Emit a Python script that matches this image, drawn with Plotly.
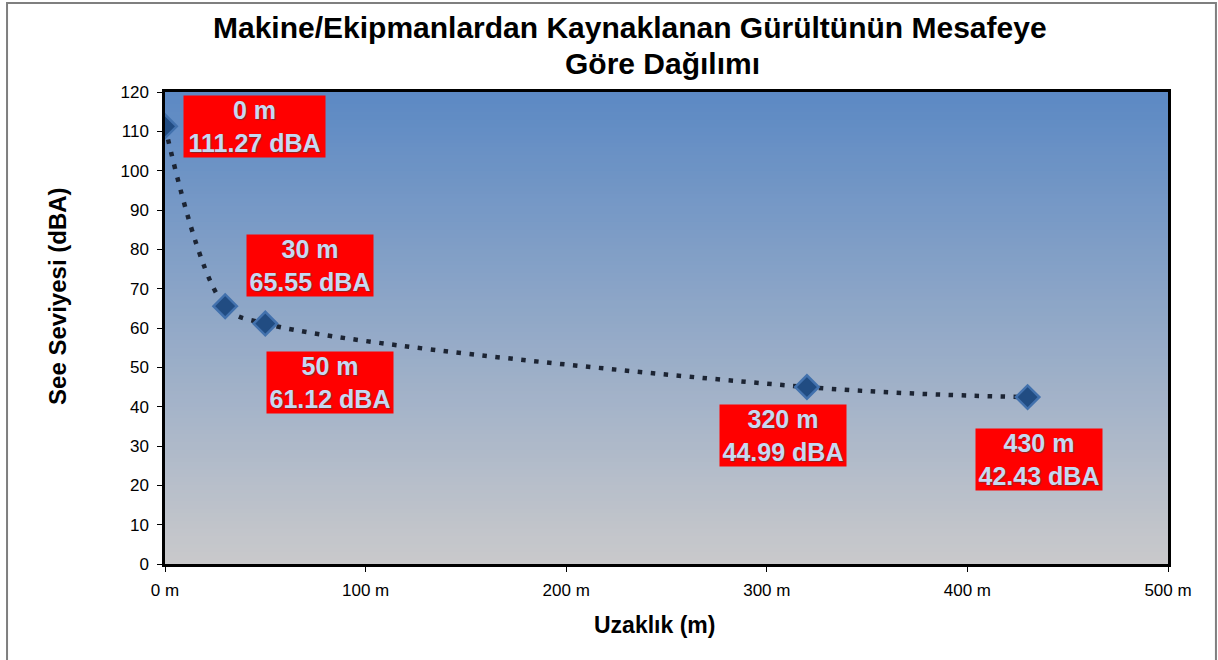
import plotly.graph_objects as go

distances = [0, 30, 50, 320, 430]
levels = [111.27, 65.55, 61.12, 44.99, 42.43]
label_shift_x = [89, 85, 65, -24, 11]
label_shift_y = [0, 41, -59, -48, -62]

title_line1 = "Makine/Ekipmanlardan Kaynaklanan Gürültünün Mesafeye"
title_line2 = "Göre Dağılımı"
x_title = "Uzaklık (m)"
y_title = "See Seviyesi (dBA)"

FONT = "Liberation Sans, Arial, sans-serif"

fig = go.Figure()
fig.add_trace(go.Scatter(
    x=distances, y=levels, mode="lines+markers",
    line=dict(shape="spline", smoothing=1.0, color="#1c2433", width=4.5, dash="4.5px,8.5px"),
    marker=dict(symbol="diamond", size=18, color="#214c82",
                line=dict(color="#4271ad", width=2.5)),
    hoverinfo="x+y", showlegend=False,
))

# gradient background of plot area
top = (92, 137, 196)
bot = (201, 201, 203)
N = 120
shapes = []
for i in range(N):
    t = i / (N - 1)
    c = tuple(round(bot[k] + (top[k] - bot[k]) * t) for k in range(3))
    shapes.append(dict(type="rect", xref="x domain", yref="y domain",
                       x0=0, x1=1, y0=i / N, y1=(i + 1) / N + 0.002,
                       fillcolor="rgb(%d,%d,%d)" % c, line=dict(width=0), layer="below"))
# outer chart border
shapes.append(dict(type="rect", xref="paper", yref="paper",
                   x0=-0.1575, x1=1.0478, y0=-0.21, y1=1.1886,
                   line=dict(color="#7f7f7f", width=2), fillcolor="rgba(0,0,0,0)", layer="above"))

annotations = []
for d, l, sx, sy in zip(distances, levels, label_shift_x, label_shift_y):
    txt_val = f"{l:.2f} dBA"
    annotations.append(dict(
        x=d, y=l, xref="x", yref="y", showarrow=False,
        text=f"{d} m<br>{txt_val}",
        xshift=sx, yshift=sy, bgcolor="#ff0000", borderpad=0,
        width=141 if len(txt_val) > 9 else 126, height=61,
        font=dict(family=FONT, size=25, color="#c6d9f1", weight="bold",
                  shadow="1px 1px 1px rgba(60,60,60,0.6)"),
    ))
# title (two lines, as in the reference)
annotations.append(dict(
    x=(630 - 165) / 1003, y=(564 - 27) / 472, xref="paper", yref="paper",
    xanchor="center", yanchor="middle",
    showarrow=False, text="<b>" + title_line1 + "</b>",
    font=dict(family=FONT, size=30, color="black"),
))
annotations.append(dict(
    x=(662 - 165) / 1003, y=(564 - 63) / 472, xref="paper", yref="paper",
    xanchor="center", yanchor="middle",
    showarrow=False, text="<b>" + title_line2 + "</b>",
    font=dict(family=FONT, size=30, color="black"),
))
# axis titles
annotations.append(dict(
    x=0.4885, y=-0.129, xref="paper", yref="paper", xanchor="center", yanchor="middle",
    showarrow=False, text="<b>" + x_title + "</b>",
    font=dict(family=FONT, size=23, color="black"),
))
annotations.append(dict(
    x=-0.1067, y=0.568, xref="paper", yref="paper", xanchor="center", yanchor="middle",
    showarrow=False, textangle=-90, text="<b>" + y_title + "</b>",
    font=dict(family=FONT, size=24, color="black"),
))

fig.update_layout(
    width=1218, height=660,
    margin=dict(l=165, r=50, t=92, b=96),
    paper_bgcolor="white", plot_bgcolor="#a0b0c8",
    font=dict(family=FONT, color="black"),
    shapes=shapes, annotations=annotations,
)
fig.update_xaxes(
    range=[0, 500], dtick=100, ticksuffix=" m", showgrid=False, zeroline=False,
    showline=True, mirror=True, linecolor="black", linewidth=2.5,
    ticks="outside", ticklen=5, tickcolor="black", tickfont=dict(size=17),
    ticklabelstandoff=4, automargin=False,
)
fig.update_yaxes(
    range=[0, 120], dtick=10, showgrid=False, zeroline=False,
    showline=True, mirror=True, linecolor="black", linewidth=2.5,
    ticks="outside", ticklen=5, tickcolor="black", tickfont=dict(size=17),
    ticklabelstandoff=5, automargin=False,
)

fig.write_html("out.html", config={"displayModeBar": False},
               post_script="document.body.style.margin='0px';")
